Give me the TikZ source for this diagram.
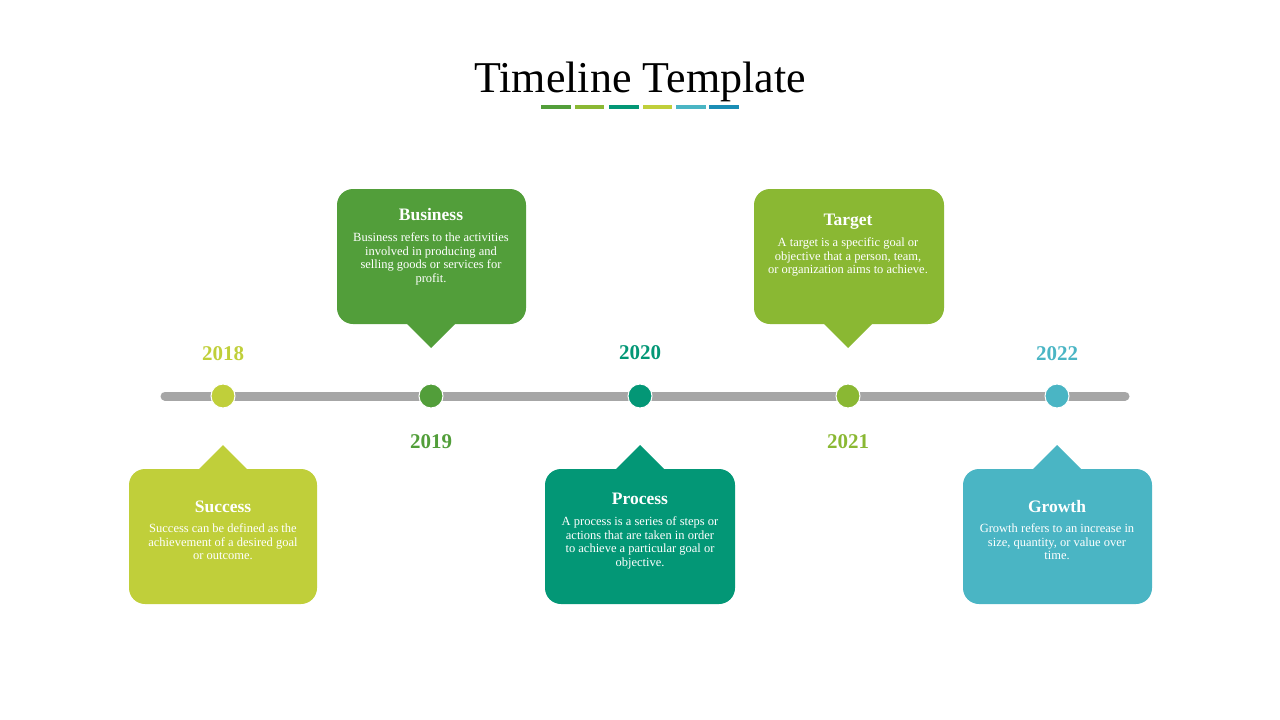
\documentclass[tikz,border=0pt]{standalone}
\usepackage{fontspec}
\setmainfont{Liberation Serif}
\definecolor{cSuccess}{HTML}{C0CF3A}
\definecolor{cBusiness}{HTML}{529E3A}
\definecolor{cProcess}{HTML}{039776}
\definecolor{cTarget}{HTML}{8AB833}
\definecolor{cGrowth}{HTML}{4AB5C4}
\definecolor{cBlue}{HTML}{1A8DB5}
\definecolor{cBar}{HTML}{A6A6A6}
\tikzset{
  dot/.style={circle, fill=#1, draw=white, line width=1pt, minimum size=24pt, inner sep=0pt},
  year/.style={text=#1, font=\fontsize{21}{24}\selectfont\bfseries, anchor=base},
  cardtitle/.style={text=white, font=\fontsize{17.5}{20}\selectfont\bfseries, anchor=base},
  cardtext/.style={text=white, font=\fontsize{12.5}{13.5}\selectfont, align=center, anchor=north, inner sep=0pt},
}
\begin{document}
\begin{tikzpicture}[x=1pt, y=-1pt]
    \useasboundingbox (0,0) rectangle (1280,720);
    % title
    \node[anchor=base, font=\fontsize{44}{50}\selectfont] (title) at (640,92) {Timeline Template};
    \foreach \a/\b/\c in {541/571/cBusiness, 575/604/cTarget, 609/639/cProcess, 643/672/cSuccess, 676/706/cGrowth, 709/739/cBlue} {
        \fill[\c] (\a,104.5) rectangle (\b,108.5);
    }
    % bar
    \coordinate (barL) at (165,396);
    \coordinate (barR) at (1125,396);
    \draw[cBar, line width=9pt, line cap=round] (barL) -- (barR);
    % dots and years
    \foreach \x/\c/\yr/\yy [count=\i] in {223/cSuccess/2018/360, 431/cBusiness/2019/448, 640/cProcess/2020/359, 848/cTarget/2021/448, 1057/cGrowth/2022/360} {
        \node[dot=\c] (dot\i) at (\x,396) {};
        \node[year=\c] (year\i) at (\x,\yy) {\yr};
    }
    % upper cards
    \foreach \x/\l/\r/\c in {431/337/526/cBusiness, 848/754/944/cTarget} {
        \fill[\c, rounded corners=16pt] (\l,189) rectangle (\r,324);
        \fill[\c] (\x-26,322) -- (\x+26,322) -- (\x,348) -- cycle;
    }
    % lower cards
    \foreach \x/\l/\r/\c in {223/129/317/cSuccess, 640/545/735/cProcess, 1057/963/1152/cGrowth} {
        \fill[\c, rounded corners=16pt] (\l,469) rectangle (\r,604);
        \fill[\c] (\x-26,471) -- (\x+26,471) -- (\x,445) -- cycle;
    }
    % card texts
    \node[cardtitle] (tBusiness) at (431,220) {Business};
    \node[cardtext] (dBusiness) at (431,232.5) {Business refers to the activities\\involved in producing and\\selling goods or services for\\profit.};
    \node[cardtitle] (tTarget) at (848,225) {Target};
    \node[cardtext] (dTarget) at (848,237.5) {A target is a specific goal or\\objective that a person, team,\\or organization aims to achieve.};
    \node[cardtitle] (tSuccess) at (223,512) {Success};
    \node[cardtext] (dSuccess) at (223,523.5) {Success can be defined as the\\achievement of a desired goal\\or outcome.};
    \node[cardtitle] (tProcess) at (640,504) {Process};
    \node[cardtext] (dProcess) at (640,516.5) {A process is a series of steps or\\actions that are taken in order\\to achieve a particular goal or\\objective.};
    \node[cardtitle] (tGrowth) at (1057,512) {Growth};
    \node[cardtext] (dGrowth) at (1057,523.5) {Growth refers to an increase in\\size, quantity, or value over\\time.};
\end{tikzpicture}
\end{document}
